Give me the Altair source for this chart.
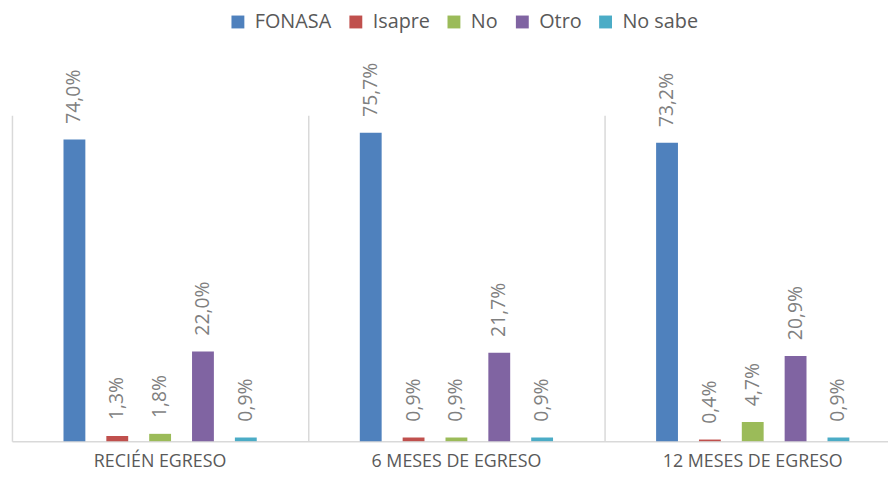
import altair as alt
import pandas as pd

groups = ["RECIÉN EGRESO", "6 MESES DE EGRESO", "12 MESES DE EGRESO"]
series = ["FONASA", "Isapre", "No", "Otro", "No sabe"]
colors = ["#4f81bd", "#c0504d", "#9bbb59", "#8064a2", "#4bacc6"]
values = {
    "FONASA": [74.0, 75.7, 73.2],
    "Isapre": [1.3, 0.9, 0.4],
    "No": [1.8, 0.9, 4.7],
    "Otro": [22.0, 21.7, 20.9],
    "No sabe": [0.9, 0.9, 0.9],
}

rows = []
for s in series:
    for g, v in zip(groups, values[s]):
        rows.append({"grupo": g, "serie": s, "valor": v,
                     "etiqueta": f"{v:.1f}".replace(".", ",") + "%"})
df = pd.DataFrame(rows)

FONT = "Open Sans"

x_enc = alt.X("grupo:N", sort=groups,
              scale=alt.Scale(paddingInner=0, paddingOuter=0),
              axis=alt.Axis(title=None, labelAngle=0, grid=True, bandPosition=0,
                            gridColor="#d9d9d9", gridWidth=1.5, ticks=False,
                            domainColor="#d9d9d9", domainWidth=1.5,
                            labelFont=FONT, labelFontSize=18, labelColor="#595959",
                            labelPadding=12, labelLimit=400))
xo_enc = alt.XOffset("serie:N", sort=series,
                     scale=alt.Scale(domain=series, range=[52, 247],
                                     paddingInner=0.49, paddingOuter=0))
y_enc = alt.Y("valor:Q", scale=alt.Scale(domain=[0, 80]), axis=None)

bars = alt.Chart(df).mark_bar().encode(
    x=x_enc, xOffset=xo_enc, y=y_enc,
    color=alt.Color("serie:N", sort=series,
                    scale=alt.Scale(domain=series, range=colors),
                    legend=alt.Legend(title=None, orient="none", direction="horizontal",
                                      legendX=218, legendY=-104, padding=0,
                                      symbolType="square", symbolSize=169,
                                      symbolStrokeWidth=0, labelFont=FONT,
                                      labelFontSize=20, labelColor="#595959",
                                      labelOffset=7, columnPadding=14)),
)

labels = alt.Chart(df).mark_text(angle=270, align="left", baseline="middle", dx=16,
                                 font=FONT, fontSize=19.5, color="#7f7f7f").encode(
    x=alt.X("grupo:N", sort=groups),
    xOffset=alt.XOffset("serie:N", sort=series),
    y="valor:Q", text="etiqueta:N",
)

chart = alt.layer(bars, labels).properties(
    width=897, height=329,
    autosize=alt.AutoSizeParams(type="none"),
    padding={"left": 4, "top": 106, "right": -13, "bottom": 30},
).configure_view(stroke=None)

chart.save("out.html", embed_options={"renderer": "svg", "actions": False})
